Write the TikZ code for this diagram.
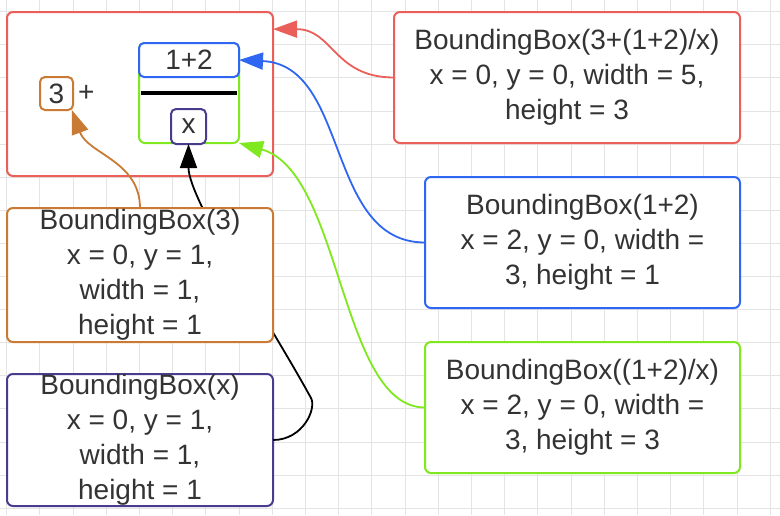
\documentclass[tikz,border=0pt]{standalone}
\usepackage{fontspec}
\setmainfont{Liberation Sans}
\usepackage{xcolor}
\usepackage{tikz}
\usetikzlibrary{calc, arrows.meta, positioning}
\definecolor{bbred}{HTML}{EA5F5A}
\definecolor{bborange}{HTML}{C97A34}
\definecolor{bbblue}{HTML}{2F66F2}
\definecolor{bbgreen}{HTML}{7FE81F}
\definecolor{bbpurple}{HTML}{4A3C8C}
\definecolor{bbtext}{HTML}{333333}
\definecolor{gridgray}{HTML}{E4E4E4}
\tikzset{
	>={Triangle[length=24pt,width=17pt]},
	font = \fontsize{28}{35}\selectfont,
	box/.style={
		draw,
		fill=white,
		line width=2pt,
		rounded corners=6pt,
		align=center,
		inner sep=0pt,
		outer sep=0pt
	},
	edge/.style={
		->,
		line width=1.8pt
	},
	gridline/.style={
		draw=gridgray,
		line width=1pt
	}
}

\begin{document}
\begin{tikzpicture}[x=1pt, y=-1pt]
		\tikzset{every node/.style={text=bbtext, inner sep=0pt}}
		\useasboundingbox (0,0) rectangle (780,515);

		\foreach \i in {0,...,23} {
			\draw[gridline] (6.6+33.2*\i,0) -- (6.6+33.2*\i,515);
		}
		\foreach \j in {0,...,15} {
			\draw[gridline] (0,11.7+33.1*\j) -- (780,11.7+33.1*\j);
		}

		\node[box, draw=bbred, minimum width=266pt, minimum height=164pt] at (140,94) (ro) {};
		\node[box, draw=bborange, rounded corners=5pt, minimum size=33pt] at (56.5,93.5) (b3) {3};
		\node[right=5pt of b3] (plus) {+};
		\node[box, draw=bbgreen, minimum width=100pt, minimum height=100pt] at (189,93) (gb) {};
		\node[box, draw=bbblue, rounded corners=5pt, minimum width=100pt, minimum height=34pt] at (189,60) (b12) {1+2};
		\node[box, draw=bbpurple, rounded corners=5pt, minimum size=35pt] at (188.5,126.5) (bx) {x};
		\draw[line width=4.5pt] ([xshift=2pt]gb.west) -- ([xshift=-2pt]gb.east);

		\node[box, draw=bbpurple, minimum width=266pt, minimum height=132pt] at (140,440) (pbx)
			{BoundingBox(x)\\ x = 0, y = 1,\\ width = 1,\\ height = 1};
		\draw[edge, black] (pbx.east) .. controls +(30,0) and +(5.8,10.6) .. ++(38,-42)
			.. controls +(-38.4,-70.4) and +(0,56) .. (bx.south);
		\node[box, draw=bborange, minimum width=266pt, minimum height=134pt, above=32pt of pbx] (ob)
			{BoundingBox(3)\\ x = 0, y = 1,\\ width = 1,\\ height = 1};

		\node[box, draw=bbred, minimum width=346pt, minimum height=131pt] at (567,77.5) (rr)
			{BoundingBox(3+(1+2)/x)\\ x = 0, y = 0, width = 5,\\ height = 3};
		\node[box, draw=bbblue, minimum width=315pt, minimum height=131pt, below=34pt of rr.south east, anchor=north east] (rb)
			{BoundingBox(1+2)\\ x = 2, y = 0, width =\\ 3, height = 1};
		\node[box, draw=bbgreen, minimum width=315pt, minimum height=131pt, below=34pt of rb] (rg)
			{BoundingBox((1+2)/x)\\ x = 2, y = 0, width =\\ 3, height = 3};

		\draw[edge, bbred] (rr.west) .. controls +(-60,0) and +(60,0) .. (ro.26);
		\draw[edge, bbblue] (rb.west) .. controls +(-100,0) and +(111,5) .. (b12.east);
		\draw[edge, bbgreen] (rg.west) .. controls +(-85,0) and +(103,29) .. (gb.south east);
		\draw[edge, bborange] (ob.north) .. controls +(0,-47) and +(16,44) .. (b3.-47);
	\end{tikzpicture}
\end{document}
